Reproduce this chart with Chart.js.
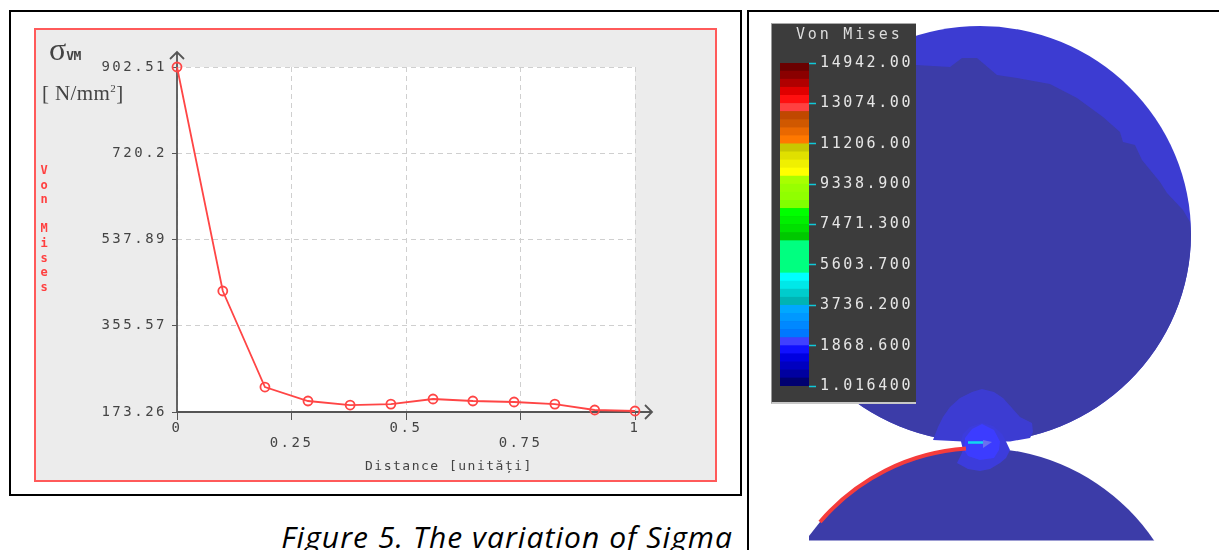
<!DOCTYPE html>
<html><head><meta charset="utf-8">
<script src="https://cdn.jsdelivr.net/npm/chart.js@4/dist/chart.umd.min.js"></script>
<style>
html,body{margin:0;padding:0;background:#fff;width:1219px;height:550px;overflow:hidden}
body{filter:blur(.35px)}
.abs{position:absolute;white-space:nowrap}
.mono{font-family:"DejaVu Sans Mono",monospace}
.serif{font-family:"Liberation Serif",serif}
canvas{position:absolute}
</style></head><body>
<div class="abs" style="left:9px;top:10px;width:729px;height:482px;border:2px solid #000"></div>
<div class="abs" style="left:34px;top:28px;width:679px;height:450px;border:2px solid #ff5a5a;background:#ececec"></div>
<div class="abs" style="left:747px;top:10px;width:480px;height:560px;border-left:2px solid #000;border-top:2px solid #000"></div>

<svg class="abs" style="left:0;top:0" width="1219" height="550" viewBox="0 0 1219 550">
  <defs>
    <clipPath id="c"><rect x="771" y="12" width="448" height="538"/></clipPath>
    <clipPath id="low"><rect x="809" y="400" width="347" height="140.500"/></clipPath>
  </defs>
  <g clip-path="url(#c)">
  <ellipse cx="980" cy="234" rx="211" ry="208" fill="#3c3cd2"/>
  <path d="M769 65L916 65L950 67L962 58L977 58L997 75L1017 78L1050 84L1077 98L1103 117L1120 132L1123 142L1135 145L1142 160L1160 182L1167 193L1183 210L1190 222L1191 234A211 208 0 1 1 769 234Z" fill="#3c3ca8"/>
  <rect x="760" y="441.500" width="450" height="30" fill="#fff"/>
  <circle cx="980" cy="658" r="210" fill="#3c3ca8" clip-path="url(#low)"/>
  <path d="M982 389L994 392L1003 398L1012 408L1020 417L1032 423L1033 432L1030 438L1010 441.500L963 441.500L933 440L938 427L943 417L950 407L960 398L972 392Z" fill="#3c3cd2"/>
  <path d="M982 423L993 426L1002 434L1006 441.500L1010 450L1006 458L1000 463L990 469L980 471L968 469L957 463L961 455L963 450L961 441.500L963 434L970 427Z" fill="#3c3cdc"/>
  <path d="M982 424L994 430L1000 441.500L999 450L994 458L980 460L968 456L964 450L965 438L972 429Z" fill="#3c3cff"/>
  <path d="M968 442.500L984 442.500" stroke="#10d8f0" stroke-width="2.500"/>
  <path d="M983 440L992 442L983 448Z" fill="#6a70f0"/>
  <path d="M820 522A210 210 0 0 1 966 448.500" fill="none" stroke="#f53c3c" stroke-width="4"/>
  </g>
</svg>

<canvas id="lineChart" width="679" height="450" style="left:36px;top:30px"></canvas>

<div class="abs" style="left:771px;top:23px;width:144px;height:378px;background:#3c3c3c;border-top:1px solid #aaa;border-left:1px solid #999;border-bottom:2px solid #c8c8c8;box-sizing:content-box"></div>
<canvas id="legendChart" width="145" height="379" style="left:771px;top:24px"></canvas>
<div class="abs mono" style="left:796px;top:25px;font-size:15px;letter-spacing:2.800px;color:#ddd">Von Mises</div>

<div class="abs serif" style="left:49px;top:31px;font-size:32px;color:#444">σ<span style="font-size:13px;font-weight:bold;letter-spacing:-.5px;font-family:'DejaVu Sans Mono'">VM</span></div>
<div class="abs serif" style="left:42px;top:81px;font-size:21px;letter-spacing:.4px;color:#444">[ N/mm<sup style="font-size:11px;line-height:0">2</sup>]</div>
<div class="abs mono" style="left:37px;top:163px;font-size:12px;font-weight:bold;line-height:14px;color:#ff4040;writing-mode:vertical-rl;text-orientation:upright;letter-spacing:.6px">Von Mises</div>
<div class="abs mono" style="left:365px;top:458px;font-size:13px;letter-spacing:1.500px;color:#444">Distance [unități]</div>
<div class="abs" style="right:486px;top:514px;font-family:'Open Sans',sans-serif;font-style:italic;font-size:30px;line-height:46px;letter-spacing:1.050px;color:#000">Figure 5. The variation of Sigma</div>

<script>
const distance = [0, 0.10, 0.192, 0.286, 0.378, 0.467, 0.559, 0.646, 0.736, 0.825, 0.912, 1];
const vonMises = [902.51, 429, 226, 196.5, 188, 190, 200.7, 196.5, 194.4, 190, 177.5, 175.4];
const yTickValues = [173.26, 355.57, 537.89, 720.2, 902.51];
const yTickLabels = ['173.26', '355.57', '537.89', '720.2', '902.51'];
const xTickValues = [0, 0.25, 0.5, 0.75, 1];
const xTickLabels = ['0', ['', '0.25'], '0.5', ['', '0.75'], '1'];
const legendTickValues = [1.0164, 1868.6, 3736.2, 5603.7, 7471.3, 9338.9, 11206, 13074, 14942];
const legendTickLabels = ['1.016400', '1868.600', '3736.200', '5603.700', '7471.300', '9338.900', '11206.00', '13074.00', '14942.00'];
const bandWidth = 373.5;
const bandColors = [
  '#000070','#0000a0','#0000c0','#0000e0','#1010ff','#4040ff',
  '#0078ff','#0088ff','#0098ff','#00a8ff',
  '#00b4b4','#00cccc','#00e8e8','#00ffff',
  '#00ff80','#00ff80','#00ff80','#00ff80',
  '#00c800','#00e000','#00f000','#00ff00',
  '#80ff00','#90ff00','#98ff00','#a8ff00',
  '#ffff00','#f0f000','#e0e000','#c8c800',
  '#ff7800','#ea6800','#d05800','#c04800',
  '#ff4040','#ff1010','#e00000','#b00000','#8a0000','#6a0000'
];

const spacing = px => ({ id:'spacing', beforeDraw(c){ c.ctx.letterSpacing = px; } });

const plotDecor = {
  id:'plotDecor',
  beforeDraw(c){
    const a = c.chartArea;
    c.ctx.save();
    c.ctx.fillStyle = '#fff';
    c.ctx.fillRect(a.left, a.top, a.right - a.left, a.bottom - a.top);
    c.ctx.restore();
  },
  beforeDatasetsDraw(c){
    const x0 = c.scales.x.getPixelForValue(0), x1 = c.scales.x.getPixelForValue(1);
    const y0 = c.scales.y.getPixelForValue(yTickValues[0]), y1 = c.scales.y.getPixelForValue(yTickValues[4]);
    const ctx = c.ctx;
    ctx.save();
    ctx.strokeStyle = '#555'; ctx.lineWidth = 1.800;
    ctx.beginPath();
    ctx.moveTo(x0, y0); ctx.lineTo(x0, y1 - 15);
    ctx.moveTo(x0 - 7, y1 - 8); ctx.lineTo(x0, y1 - 15); ctx.lineTo(x0 + 7, y1 - 8);
    ctx.moveTo(x0, y0); ctx.lineTo(x1 + 17, y0);
    ctx.moveTo(x1 + 10, y0 - 7); ctx.lineTo(x1 + 17, y0); ctx.lineTo(x1 + 10, y0 + 7);
    ctx.stroke();
    ctx.restore();
  }
};

new Chart(document.getElementById('lineChart'), {
  type:'line',
  data:{ datasets:[{
    data: distance.map((d,i)=>({x:d, y:vonMises[i]})),
    borderColor:'#ff4545', borderWidth:1.800,
    pointStyle:'circle', pointRadius:4.500, pointBorderWidth:1.800,
    pointBorderColor:'#ff4545', pointBackgroundColor:'rgba(0,0,0,0)',
    tension:0, clip:false
  }]},
  options:{
    responsive:false, animation:false, devicePixelRatio:1,
    layout:{ padding:{left:0, right:80, top:37, bottom:0} },
    plugins:{ legend:{display:false}, tooltip:{enabled:false}, title:{display:false} },
    scales:{
      x:{ type:'linear', min:0, max:1,
        afterBuildTicks(ax){ ax.ticks = xTickValues.map(v=>({value:v})); },
        afterFit(ax){ ax.height = 68; },
        grid:{ color:'#cfcfcf', tickColor:'#555', tickLength:8, tickBorderDash:[], drawTicks:true },
        border:{ display:false, dash:[5,4] },
        ticks:{ autoSkip:false, maxRotation:0, padding:1, color:'#444',
          font:{family:'"DejaVu Sans Mono"', size:14, lineHeight:1.05}, callback:(v,i)=>xTickLabels[i] }
      },
      y:{ type:'linear', min:yTickValues[0], max:yTickValues[4],
        afterBuildTicks(ax){ ax.ticks = yTickValues.map(v=>({value:v})); },
        afterFit(ax){ ax.width = 141; },
        grid:{ color:'#cfcfcf', tickColor:'#555', tickLength:5, tickBorderDash:[] },
        border:{ display:false, dash:[5,4] },
        ticks:{ autoSkip:false, padding:5, color:'#444',
          font:{family:'"DejaVu Sans Mono"', size:14}, callback:(v,i)=>yTickLabels[i] }
      }
    }
  },
  plugins:[spacing('2.500px'), plotDecor]
});

new Chart(document.getElementById('legendChart'), {
  type:'bar',
  data:{ labels:['Von Mises'], datasets: bandColors.map(c=>({
    data:[bandWidth], backgroundColor:c, borderWidth:0, barPercentage:1, categoryPercentage:1, stack:'s'
  }))},
  options:{
    responsive:false, animation:false, devicePixelRatio:1,
    layout:{ padding:{left:9, right:0, top:39, bottom:17} },
    plugins:{ legend:{display:false}, tooltip:{enabled:false} },
    scales:{
      x:{ display:false, stacked:true },
      y:{ position:'right', stacked:true, min:legendTickValues[0], max:legendTickValues[8],
        afterBuildTicks(ax){ ax.ticks = legendTickValues.map(v=>({value:v})); },
        afterFit(ax){ ax.width = 107; },
        grid:{ drawOnChartArea:false, tickColor:'#10c8d8', tickLength:7, tickWidth:1.500 },
        border:{ display:false },
        ticks:{ autoSkip:false, padding:4, color:'#e6e6e6',
          font:{family:'"DejaVu Sans Mono"', size:15}, callback:(v,i)=>legendTickLabels[i] }
      }
    }
  },
  plugins:[spacing('2.600px')]
});
</script>
</body></html>
